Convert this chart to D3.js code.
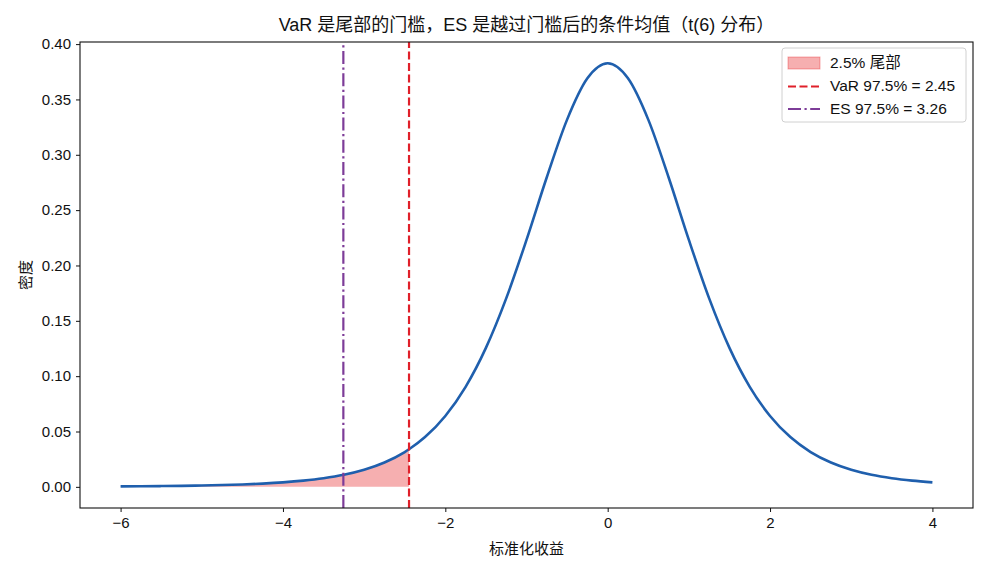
<!DOCTYPE html>
<html>
<head>
<meta charset="utf-8">
<script src="https://cdn.jsdelivr.net/npm/d3@7"></script>
<style>
  body { margin: 0; background: #fff; }
  svg { font-family: "Liberation Sans", "Noto Sans CJK SC", sans-serif; }
</style>
</head>
<body>
<div id="chart"></div>
<script>
// density of t(6)
const xs = [-6, -5.75, -5.5, -5.25, -5, -4.75, -4.5, -4.25, -4, -3.75, -3.5, -3.25, -3, -2.75, -2.5, -2.447,
  -2.25, -2, -1.75, -1.5, -1.25, -1, -0.75, -0.5, -0.25, 0,
  0.25, 0.5, 0.75, 1, 1.25, 1.5, 1.75, 2, 2.25, 2.5, 2.75, 3, 3.25, 3.5, 3.75, 4];
const density = [0.00042, 0.00054, 0.00071, 0.00092, 0.00122, 0.00163, 0.00219, 0.00296, 0.00405, 0.0056, 0.0078, 0.01095, 0.01549, 0.02204, 0.03147, 0.03395,
  0.04497, 0.06404, 0.09038, 0.12556, 0.17026, 0.22314, 0.2797, 0.33177, 0.3691, 0.38273,
  0.3691, 0.33177, 0.2797, 0.22314, 0.17026, 0.12556, 0.09038, 0.06404, 0.04497, 0.03147, 0.02204, 0.01549, 0.01095, 0.0078, 0.0056, 0.00405];
const varLevel = -2.447;
const esLevel = -3.256;
const xTicks = [-6, -4, -2, 0, 2, 4];
const yTicks = [0, 0.05, 0.1, 0.15, 0.2, 0.25, 0.3, 0.35, 0.4];
const legendLabels = ["2.5% 尾部", "VaR 97.5% = 2.45", "ES 97.5% = 3.26"];

const width = 990, height = 572;
const margin = { top: 42, right: 17, bottom: 64, left: 80 };

const svg = d3.select("#chart").append("svg")
  .attr("width", width).attr("height", height);

const x = d3.scaleLinear().domain([-6.5, 4.5]).range([margin.left, width - margin.right]);
const y = d3.scaleLinear().domain([-0.0191, 0.4019]).range([height - margin.bottom, margin.top]);

const pts = xs.map((v, i) => ({ x: v, y: density[i] }));
const tail = pts.filter(d => d.x <= varLevel);

// tail area
svg.append("path")
  .datum(tail)
  .attr("fill", "#e41a1c")
  .attr("fill-opacity", 0.35)
  .attr("d", d3.area().curve(d3.curveMonotoneX)
    .x(d => x(d.x)).y0(y(0)).y1(d => y(d.y)));

// density curve
svg.append("path")
  .datum(pts)
  .attr("fill", "none")
  .attr("stroke", "#1f5fad")
  .attr("stroke-width", 2.6)
  .attr("d", d3.line().curve(d3.curveMonotoneX).x(d => x(d.x)).y(d => y(d.y)));

// VaR / ES lines
svg.append("line")
  .attr("x1", x(varLevel)).attr("x2", x(varLevel))
  .attr("y1", y.range()[0]).attr("y2", y.range()[1])
  .attr("stroke", "#e0202a").attr("stroke-width", 2.2)
  .attr("stroke-dasharray", "8,3.5");
svg.append("line")
  .attr("x1", x(esLevel)).attr("x2", x(esLevel))
  .attr("y1", y.range()[0]).attr("y2", y.range()[1])
  .attr("stroke", "#7d3c98").attr("stroke-width", 2.2)
  .attr("stroke-dasharray", "13,3.5,2.2,3.5");

// axes
const xAxis = svg.append("g")
  .attr("transform", `translate(0,${height - margin.bottom})`)
  .call(d3.axisBottom(x).tickValues(xTicks).tickSize(4).tickPadding(5)
    .tickFormat(d => d3.format("d")(d).replace("-", "−")));
const yAxis = svg.append("g")
  .attr("transform", `translate(${margin.left},0)`)
  .call(d3.axisLeft(y).tickValues(yTicks).tickSize(4).tickPadding(5)
    .tickFormat(d3.format(".2f")));
[xAxis, yAxis].forEach(g => {
  g.select(".domain").remove();
  g.selectAll("text").attr("font-size", 15).attr("fill", "#111");
  g.selectAll("line").attr("stroke", "#111");
});

// frame
svg.append("rect")
  .attr("x", margin.left).attr("y", margin.top)
  .attr("width", width - margin.left - margin.right)
  .attr("height", height - margin.top - margin.bottom)
  .attr("fill", "none").attr("stroke", "#111").attr("stroke-width", 1.1);

// title and axis labels
svg.append("text")
  .attr("x", (margin.left + width - margin.right) / 2).attr("y", 31)
  .attr("text-anchor", "middle").attr("font-size", 18).attr("fill", "#111")
  .text("VaR 是尾部的门槛，ES 是越过门槛后的条件均值（t(6) 分布）");
svg.append("text")
  .attr("x", (margin.left + width - margin.right) / 2).attr("y", 554)
  .attr("text-anchor", "middle").attr("font-size", 15).attr("fill", "#111")
  .text("标准化收益");
svg.append("text")
  .attr("transform", `translate(31,${(margin.top + height - margin.bottom) / 2}) rotate(-90)`)
  .attr("text-anchor", "middle").attr("font-size", 15).attr("fill", "#111")
  .text("密度");

// legend
const lg = svg.append("g").attr("transform", "translate(782,48)");
lg.append("rect")
  .attr("width", 184).attr("height", 74).attr("rx", 3)
  .attr("fill", "#fff").attr("fill-opacity", 0.8)
  .attr("stroke", "#d0d0d0");
lg.append("rect")
  .attr("x", 6).attr("y", 9).attr("width", 32).attr("height", 12)
  .attr("fill", "#e41a1c").attr("fill-opacity", 0.35)
  .attr("stroke", "#e41a1c").attr("stroke-opacity", 0.35);
lg.append("line")
  .attr("x1", 6).attr("x2", 38).attr("y1", 38.5).attr("y2", 38.5)
  .attr("stroke", "#e0202a").attr("stroke-width", 2.2).attr("stroke-dasharray", "8,3.5");
lg.append("line")
  .attr("x1", 6).attr("x2", 38).attr("y1", 61).attr("y2", 61)
  .attr("stroke", "#7d3c98").attr("stroke-width", 2.2).attr("stroke-dasharray", "13,3.5,2.2,3.5");
lg.selectAll(".lt")
  .data(legendLabels)
  .join("text")
  .attr("x", 48).attr("y", (d, i) => 15 + i * 22.8)
  .attr("dy", "0.35em")
  .attr("font-size", 15.5).attr("fill", "#111")
  .text(d => d);
</script>
</body>
</html>
